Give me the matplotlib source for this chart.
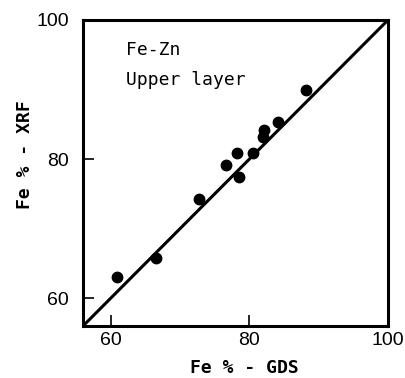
import matplotlib
matplotlib.use("Agg")
import matplotlib.pyplot as plt

# Data
gds = [60.9, 66.5, 72.8, 76.7, 78.2, 78.5, 80.5, 82.0, 82.1, 84.1, 88.2]
xrf = [63.1, 65.8, 74.3, 79.2, 80.9, 77.4, 80.9, 83.2, 84.2, 85.4, 90.0]
line_x = [56, 100]
line_y = [56, 100]
ticks = [60, 80, 100]
tick_labels = ["60", "80", "100"]

fig = plt.figure(figsize=(4.06, 3.78), dpi=100)
ax = fig.add_axes([83/406, 1-326/378, (388-83)/406, (326-20)/378])

ax.plot(line_x, line_y, color="black", lw=2.2, solid_capstyle="butt")
ax.plot(gds, xrf, "o", color="black", ms=7.5, mec="black")

ax.set_xlim(56, 100)
ax.set_ylim(56, 100)
ax.set_xticks(ticks)
ax.set_xticklabels(tick_labels)
ax.set_yticks(ticks)
ax.set_yticklabels(tick_labels)

for s in ax.spines.values():
    s.set_linewidth(2.2)
    s.set_color("black")

ax.tick_params(axis="both", direction="in", length=8, width=1.2, labelsize=14)
ax.tick_params(axis="x", pad=4)
ax.tick_params(axis="y", pad=10)
for lab in ax.get_xticklabels() + ax.get_yticklabels():
    lab.set_family("Liberation Sans")

ax.set_xlabel("Fe % - GDS", fontsize=13, fontweight="bold", family="DejaVu Sans Mono")
ax.set_ylabel("Fe % - XRF", fontsize=13, fontweight="bold", family="DejaVu Sans Mono")
ax.xaxis.set_label_coords(0.53, -0.108)
ax.yaxis.set_label_coords(-0.16, 0.56)

ax.text(0.141, 0.886, "Fe-Zn", transform=ax.transAxes, fontsize=13,
        family="DejaVu Sans Mono", va="baseline", ha="left")
ax.text(0.141, 0.788, "Upper layer", transform=ax.transAxes, fontsize=13,
        family="DejaVu Sans Mono", va="baseline", ha="left")

fig.savefig("out.png", dpi=100)
